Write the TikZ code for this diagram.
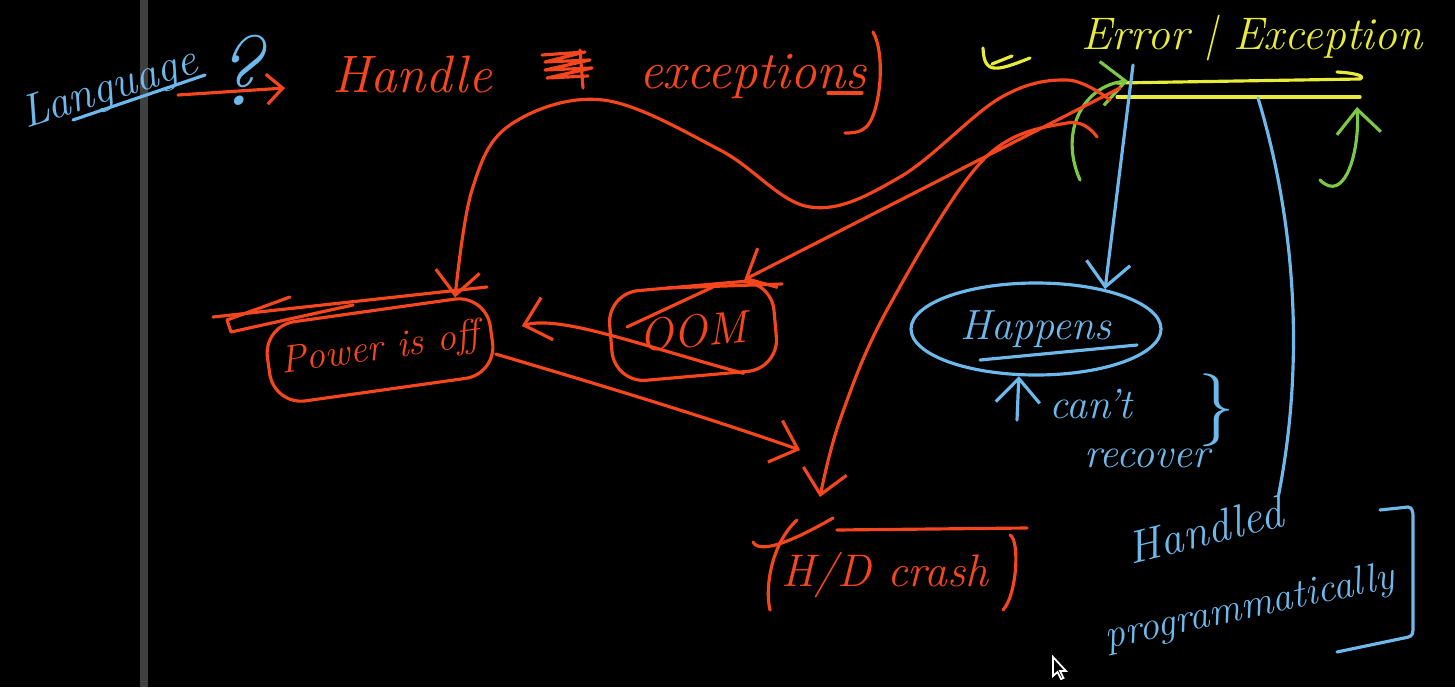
\documentclass[tikz,border=0pt]{standalone}
\usepackage{xcolor}
\usepackage{tikz}
\usetikzlibrary{arrows.meta,positioning,calc,shapes.geometric}
\definecolor{chalkred}{RGB}{245,70,30}
\definecolor{chalkblue}{RGB}{110,185,235}
\definecolor{chalkyellow}{RGB}{232,235,55}
\definecolor{chalkgreen}{RGB}{125,200,70}
\definecolor{bargray}{RGB}{64,64,64}

\begin{document}
\begin{tikzpicture}[x=1cm,y=-1cm,>={Straight Barb[length=2.4mm,width=4.4mm]},
  pen/.style={line width=0.9pt,line cap=round,line join=round},
  rpen/.style={pen,draw=chalkred},
  bpen/.style={pen,draw=chalkblue},
  ypen/.style={pen,draw=chalkyellow},
  gpen/.style={pen,draw=chalkgreen},
  hand/.style={inner sep=1pt,font=\fontsize{#1}{#1}\selectfont\itshape},
  rbox/.style={rpen,rounded corners=9pt,text=chalkred}]
  % board and the gray bar
  \fill[black] (0,0) rectangle (14.55,6.87);
  \useasboundingbox (0,0) rectangle (14.55,6.87);
  \fill[bargray] (1.40,0) rectangle (1.48,6.87);

  % question on the left
  \node[hand=13,inner sep=0pt,text=chalkblue,rotate=18] (lang) at (1.10,0.90) {Language};
  \node[hand=28,inner sep=0pt,text=chalkblue] (qmark) at (2.38,0.70) {?};
  \draw[bpen] (0.73,1.20) -- (2.05,0.75);
  \node[hand=15,text=chalkred] (handle) at (4.12,0.74) {Handle};
  \node[hand=15,text=chalkred] (exc) at (7.53,0.76) {exceptions};
  \coordinate (langarr) at (1.78,0.95);
  \coordinate (harr) at (2.85,0.88);
  \draw[rpen,-{Straight Barb[length=1.6mm,width=3mm]}] (langarr) -- (harr);
  % scribbled word, underline and bracket
  \draw[rpen] (5.42,0.55) -- (5.85,0.52) -- (5.45,0.62) -- (5.90,0.60) -- (5.45,0.70)
    -- (5.92,0.68) -- (5.47,0.78) -- (5.88,0.76);
  \draw[rpen] (5.80,0.50) -- (5.83,0.88);
  \draw[rpen] (8.28,0.93) -- (8.62,0.93);
  \draw[rpen] (8.73,0.32) .. controls (8.86,0.55) and (8.80,1.10) .. (8.68,1.25)
    .. controls (8.62,1.32) and (8.55,1.33) .. (8.45,1.33);

  % error | exception
  \node[hand=13,text=chalkyellow] (errexc) at (12.52,0.38) {Error | Exception};
  \draw[ypen] (9.83,0.48) .. controls (9.84,0.74) and (9.95,0.72) .. (10.30,0.58);
  \draw[ypen] (9.92,0.64) -- (10.12,0.56);
  \draw[ypen] (11.17,0.83) -- (13.60,0.79) .. controls (13.66,0.76) and (13.55,0.73) .. (13.37,0.72);
  \draw[ypen] (11.17,0.97) -- (13.60,0.97);
  % green curls
  \coordinate (gl0) at (10.80,1.80);
  \coordinate (gl1) at (11.28,0.81);
  \coordinate (gr0) at (13.20,1.80);
  \coordinate (gr1) at (13.57,1.07);
  \draw[gpen,->] (gl0) .. controls (10.58,1.30) and (10.85,0.85) .. (gl1);
  \draw[gpen,->] (gr0) .. controls (13.45,2.05) and (13.60,1.50) .. (gr1);

  % the three cases
  \node[rbox,hand=11,rotate=8,minimum width=2.25cm,minimum height=0.8cm] (power) at (3.80,3.50) {Power is off};
  \node[rbox,hand=13,rotate=5,minimum width=1.65cm,minimum height=0.9cm] (oom) at (6.93,3.31) {OOM};
  \node[hand=13,text=chalkred] (hd) at (8.85,5.75) {H/D crash};
  \draw[rpen] (2.13,3.17) -- (4.87,2.87);
  \draw[rpen] (2.90,2.97) -- (2.27,3.20) -- (2.31,3.32) -- (3.53,3.05);
  \draw[rpen] (6.67,2.88) -- (7.82,2.84);
  \draw[rpen] (6.27,3.27) -- (7.13,2.87);
  \draw[rpen] (7.97,5.20) .. controls (7.70,5.45) and (7.65,5.90) .. (7.70,6.10);
  \draw[rpen] (7.53,5.42) .. controls (7.60,5.55) and (7.95,5.40) .. (8.33,5.18);
  \draw[rpen] (8.37,5.30) -- (10.27,5.28);
  \draw[rpen] (10.10,5.35) .. controls (10.20,5.40) and (10.17,5.95) .. (10.03,6.10);

  % red connectors
  \coordinate (errA) at (11.10,1.00);
  \coordinate (errB) at (11.20,0.88);
  \coordinate (errE) at (10.97,1.37);
  \coordinate (hdin) at (8.20,4.97);
  \coordinate (dend) at (8.00,4.50);
  \draw[rpen,->] plot[smooth,tension=0.6] coordinates {(errA) (10.67,0.80) (10.00,0.98)
    (9.00,1.77) (8.10,2.07) (7.20,1.50) (6.03,1.00) (5.10,1.25) (4.72,1.90) (power.27)};
  \draw[rpen,->] (errB) -- (oom.40);
  \draw[rpen,->] plot[smooth,tension=0.6] coordinates {(errE) (10.67,1.23) (9.83,1.60)
    (8.87,3.10) (8.40,4.20) (hdin)};
  \draw[rpen,->,shorten >=3mm] (oom.-45) .. controls (6.40,3.45) and (5.60,3.15) .. (power.east);
  \draw[rpen,->] (power.-10) .. controls (6.00,3.85) and (7.00,4.15) .. (dend);

  % happens / can't recover
  \node[ellipse,bpen,hand=12,text=chalkblue,minimum width=2.5cm,minimum height=0.92cm] (happens) at (10.36,3.29) {Happens};
  \draw[bpen] (9.80,3.60) -- (11.37,3.45);
  \coordinate (errtop) at (11.33,0.65);
  \draw[bpen,->] (errtop) -- (happens.30);
  \node[hand=12,text=chalkblue,align=left,anchor=north west] (cant) at (10.45,3.85) {can't\\[2pt]\hspace{0.35cm}recover};
  \node[hand=20,text=chalkblue] (brace) at (12.17,4.10) {$\}$};
  \coordinate (upfoot) at (10.17,4.20);
  \draw[bpen,->] (upfoot) -- (happens.250);

  % handled programmatically
  \node[hand=13,inner sep=0pt,text=chalkblue,rotate=14] (handled) at (12.05,5.30) {Handled};
  \node[hand=11.5,inner sep=0pt,text=chalkblue,rotate=12] (prog) at (12.50,6.08) {programmatically};
  \draw[bpen] (13.80,5.10) -- (14.08,5.07) .. controls (14.12,5.07) and (14.13,5.12) .. (14.13,5.16)
    -- (14.13,6.30) .. controls (14.13,6.36) and (14.10,6.37) .. (14.04,6.38) -- (13.37,6.52);
  \coordinate (errR) at (12.58,0.98);
  \draw[bpen] (errR) .. controls (12.95,2.20) and (13.05,3.60) .. (handled.north east);

  % cursor
  \draw[white,line width=0.5pt,fill=black] (10.53,6.57) -- (10.53,6.76) -- (10.575,6.72) -- (10.61,6.79)
    -- (10.635,6.78) -- (10.60,6.71) -- (10.66,6.71) -- cycle;
\end{tikzpicture}
\end{document}
